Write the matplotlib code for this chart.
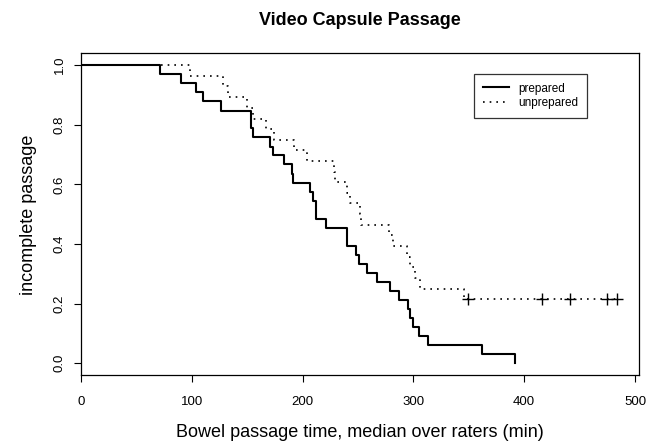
import matplotlib
matplotlib.use("Agg")
import matplotlib.pyplot as plt

plt.rcParams['font.family'] = ['Liberation Sans', 'DejaVu Sans']

# Kaplan-Meier steps (time in min, fraction not passed)
prep_time = [0, 71, 90, 103.5, 110.5, 126.5, 153.5, 155.5, 170.5, 173, 183,
             190, 191, 207, 209, 212.5, 221, 240, 248, 251, 258.5, 267,
             278.5, 287, 295, 297, 300, 305, 313, 362, 391.5]
prep_surv = [1.0, 0.970, 0.939, 0.909, 0.879, 0.848, 0.788, 0.758, 0.727,
             0.697, 0.667, 0.636, 0.606, 0.576, 0.545, 0.485, 0.455, 0.394,
             0.364, 0.333, 0.303, 0.273, 0.242, 0.212, 0.182, 0.152, 0.121,
             0.091, 0.061, 0.030, 0.0]

unp_time = [0, 98, 128.5, 133, 150, 155, 167, 174.5, 192.5, 203.7, 228, 229,
            240, 243, 251.5, 253, 278, 282, 294, 297, 301, 306, 345.7]
unp_surv = [1.0, 0.964, 0.929, 0.893, 0.857, 0.821, 0.786, 0.750, 0.714,
            0.679, 0.643, 0.607, 0.571, 0.536, 0.500, 0.464, 0.429, 0.393,
            0.357, 0.321, 0.286, 0.250, 0.214]
unp_censor = [349.6, 415.8, 441.3, 474.5, 484]

x_ticks = [0, 100, 200, 300, 400, 500]
y_ticks = [0.0, 0.2, 0.4, 0.6, 0.8, 1.0]

fig = plt.figure(figsize=(6.47, 4.45), dpi=100)
ax = fig.add_axes([0.1252, 0.1573, 0.862, 0.7229])

# prepared: solid step line
ax.step(prep_time, prep_surv, where='post', color='black', lw=1.5,
        label='prepared')

# unprepared: dotted step line, extended to last censored time
ut = unp_time + [unp_censor[-1]]
us = unp_surv + [unp_surv[-1]]
ax.step(ut, us, where='post', color='black', lw=1.2,
        linestyle=(0, (1, 3)), label='unprepared')
ax.plot(unp_censor, [unp_surv[-1]] * len(unp_censor), linestyle='none',
        marker='+', markersize=9, mew=1.0, color='black')

ax.set_xlim(0, 484 * 1.04)
ax.set_ylim(-0.04, 1.04)
ax.set_xticks(x_ticks)
ax.set_yticks(y_ticks)
ax.set_yticklabels([f"{v:.1f}" for v in y_ticks], rotation=90, va='center')
ax.tick_params(axis='x', length=5, width=0.8, pad=10, labelsize=9.5)
ax.tick_params(axis='y', length=5, width=0.8, pad=6, labelsize=9.5)
for s in ax.spines.values():
    s.set_linewidth(0.9)

leg = ax.legend(loc='upper left', bbox_to_anchor=(0.694, 0.955),
                fancybox=False, edgecolor='black', fontsize=8.5,
                handlelength=2.2, borderpad=0.75, labelspacing=0.25,
                handletextpad=0.8)
leg.get_frame().set_linewidth(0.9)

fig.text(0.556, 0.955, "Video Capsule Passage", ha='center', va='center',
         fontsize=13, fontweight='bold')
fig.text(0.556, 0.027, "Bowel passage time, median over raters (min)",
         ha='center', va='center', fontsize=13)
fig.text(0.0433, 0.517, "incomplete passage", ha='center', va='center',
         rotation=90, fontsize=13)

fig.savefig("out.png", dpi=100)
